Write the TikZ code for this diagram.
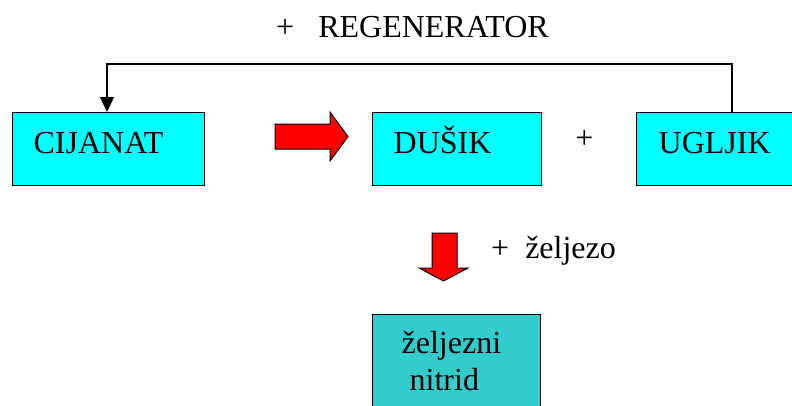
\documentclass[tikz,border=0pt]{standalone}
\usepackage{fontspec}
\setmainfont{Liberation Serif}
\usetikzlibrary{arrows.meta}
\definecolor{boxcyan}{HTML}{00FFFF}
\definecolor{boxteal}{HTML}{33CCCC}
\definecolor{arrowred}{HTML}{FF0000}

\begin{document}
\begin{tikzpicture}[x=1pt,y=-1pt]
\tikzstyle{every node}+=[inner sep=0pt,font=\fontsize{32}{37}\selectfont]
\tikzstyle{stepbox}=[draw=black,line width=1.3pt,anchor=north west,inner xsep=21pt,inner ysep=0pt,align=left]
\tikzstyle{linebox}=[stepbox,fill=boxcyan,text height=41pt,text depth=32pt]
\tikzstyle{blockarrow}=[fill=arrowred,draw=black,line width=1pt,line join=miter]
\useasboundingbox (0,0) rectangle (792,405);
\node [linebox,text width=150pt] (cijanat) at (12,112) {CIJANAT};
\node [linebox,text width=127pt] (dusik) at (372,112) {DUŠIK};
\node [linebox,inner xsep=22pt,text width=140pt] (ugljik) at (636,112) {UGLJIK};
\node [stepbox,fill=boxteal,inner xsep=29pt,inner ysep=17pt,text width=110pt] (nitrid) at (372,314) {željezni\\\hspace*{0.25em}nitrid};
\node [anchor=base west] (regen) at (276,37) {+\ \ \ REGENERATOR};
\node [anchor=base] (plus) at (584.5,148) {+};
\node [anchor=base west] (zeljezo) at (491,258) {+\ \ željezo};
\coordinate (retR) at (732,64);
\coordinate (retL) at (107,64);
\draw [black,line width=1.3pt,-{Triangle[length=15pt,width=14pt]}] (retR |- ugljik.north) -- (retR) -- (retL) -- (retL |- cijanat.north);
\filldraw [blockarrow] (275,124) -- (330,124) -- (330,112) -- (348,136.5) -- (330,161) -- (330,149) -- (275,149) -- cycle;
\filldraw [blockarrow] (432,233) -- (457,233) -- (457,268) -- (468,268) -- (443.5,281) -- (419,268) -- (432,268) -- cycle;
\end{tikzpicture}
\end{document}
